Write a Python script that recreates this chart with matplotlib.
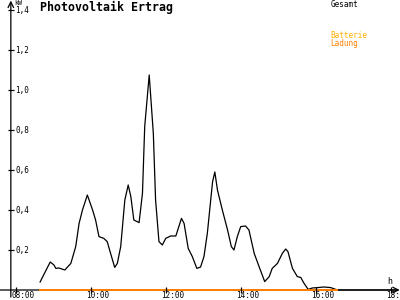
import matplotlib
matplotlib.use('Agg')
import matplotlib.pyplot as plt

# Gesamtleistung (kW) ueber Uhrzeit (Stunden)
zeit = [8.65, 8.92, 9.02, 9.07, 9.15, 9.31, 9.47, 9.60, 9.69, 9.78, 9.91, 10.05,
        10.13, 10.22, 10.35, 10.44, 10.53, 10.64, 10.71, 10.80, 10.91, 11.00, 11.07,
        11.15, 11.29, 11.38, 11.44, 11.56, 11.67, 11.73, 11.82, 11.91, 12.00, 12.13,
        12.27, 12.42, 12.49, 12.60, 12.71, 12.83, 12.93, 13.02, 13.11, 13.25, 13.31,
        13.38, 13.51, 13.65, 13.75, 13.82, 13.91, 14.00, 14.13, 14.22, 14.36, 14.49,
        14.64, 14.76, 14.84, 14.98, 15.11, 15.20, 15.26, 15.38, 15.51, 15.60, 15.69,
        15.80, 15.91, 16.05, 16.22, 16.40, 16.58, 18.15]
leistung = [0.04, 0.14, 0.125, 0.108, 0.11, 0.10, 0.133, 0.217, 0.333, 0.40, 0.475, 0.40,
            0.35, 0.267, 0.258, 0.242, 0.183, 0.113, 0.133, 0.217, 0.45, 0.525, 0.467,
            0.35, 0.337, 0.483, 0.817, 1.075, 0.783, 0.45, 0.242, 0.225, 0.258, 0.27,
            0.27, 0.358, 0.333, 0.208, 0.167, 0.108, 0.115, 0.167, 0.283, 0.542, 0.59,
            0.50, 0.40, 0.30, 0.217, 0.20, 0.267, 0.317, 0.32, 0.30, 0.183, 0.117,
            0.042, 0.067, 0.108, 0.133, 0.183, 0.205, 0.192, 0.108, 0.067, 0.063, 0.033,
            0.003, 0.01, 0.012, 0.015, 0.012, 0.0, 0.0]

# Batterie-Ladung (kW)
ladung_zeit = [8.65, 16.58]
ladung = [0.0, 0.0]

y_ticks = [0.2, 0.4, 0.6, 0.8, 1.0, 1.2, 1.4]
y_labels = ['0,2', '0,4', '0,6', '0,8', '1,0', '1,2', '1,4']
x_ticks = [8, 10, 12, 14, 16, 18]
x_labels = ['08:00', '10:00', '12:00', '14:00', '16:00', '18:00']

mono = 'DejaVu Sans Mono'

fig = plt.figure(figsize=(4, 3), dpi=100)
ax = fig.add_axes([0, 0, 1, 1])
ax.set_xlim(7.581, 18.248)
ax.set_ylim(-0.05, 1.45)
ax.axis('off')

x0 = 7.87  # Lage der y-Achse

# Achsen mit Pfeilen
ax.annotate('', xy=(18.24, 0), xytext=(7.581, 0),
            arrowprops=dict(arrowstyle='->', lw=0.9, color='black', shrinkA=0, shrinkB=0))
ax.annotate('', xy=(x0, 1.447), xytext=(x0, -0.035),
            arrowprops=dict(arrowstyle='->', lw=0.9, color='black', shrinkA=0, shrinkB=0))

# Kurven
ax.plot(zeit, leistung, color='black', lw=0.9, zorder=3)
ax.plot(ladung_zeit, ladung, color='#ff8000', lw=1.4, zorder=4)

# Ticks
ax.plot([x0] * len(y_ticks), y_ticks, ls='none', marker='_', ms=5, mew=0.9, color='black')
ax.plot(x_ticks, [0] * len(x_ticks), ls='none', marker='|', ms=5, mew=0.9, color='black', zorder=5)
for v, lab in zip(y_ticks, y_labels):
    ax.text(x0 + 0.12, v, lab, fontsize=5.5, family=mono, va='center', ha='left')
for t, lab in zip(x_ticks, x_labels):
    ax.text(t - 0.11, -0.03, lab, fontsize=5.5, family=mono, va='center', ha='left')

ax.text(x0 + 0.1, 1.437, 'kW', fontsize=4.8, family=mono, va='center', ha='left')
ax.text(17.9, 0.04, 'h', fontsize=6, family=mono, va='center', ha='left')

ax.text(8.65, 1.415, 'Photovoltaik Ertrag', fontsize=8.4, family=mono,
        weight='bold', va='center', ha='left')

# Legende
ax.text(16.39, 1.427, 'Gesamt', fontsize=5.5, family=mono, va='center', ha='left', color='black')
ax.text(16.39, 1.27, 'Batterie', fontsize=5.5, family=mono, va='center', ha='left', color='#ffb000')
ax.text(16.39, 1.23, 'Ladung', fontsize=5.5, family=mono, va='center', ha='left', color='#ff8000')

plt.savefig('out.png', dpi=100)
